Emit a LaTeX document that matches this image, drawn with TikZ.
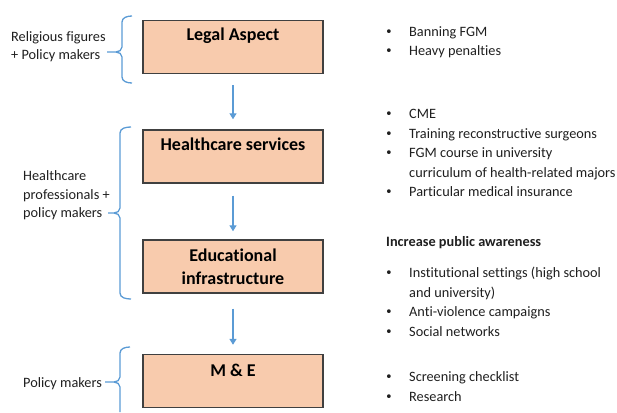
\documentclass[tikz,border=0pt]{standalone}
\usepackage{fontspec}
\setmainfont{Carlito}[Ligatures=NoCommon]
\newfontfamily\dotfont{DejaVu Sans}
\usetikzlibrary{arrows.meta}
\definecolor{boxfill}{HTML}{F8CBAD}
\definecolor{boxline}{HTML}{404040}
\definecolor{flowblue}{HTML}{5B9BD5}
\definecolor{ink}{HTML}{1F1F1F}
\newcommand{\itemdot}{{\dotfont\fontsize{13}{13}\selectfont •}}
\begin{document}
\begin{tikzpicture}[x=1pt,y=-1pt,
  stagebox/.style={draw=boxline,line width=1.4pt,fill=boxfill,minimum width=180pt,minimum height=53pt,inner sep=0pt},
  heading/.style={font=\fontsize{18}{23}\selectfont\bfseries,text=black,inner sep=0pt,anchor=base},
  flow/.style={draw=flowblue,line width=1.3pt,-{Triangle[width=7pt,length=6pt]}},
  brace/.style={draw=flowblue,line width=1.3pt},
  side/.style={font=\fontsize{14.3}{18.5}\selectfont,text=ink,inner sep=0pt,anchor=base west},
  notes/.style={font=\fontsize{14.3}{19.5}\selectfont,text=ink,inner sep=0pt,anchor=base west}]
\useasboundingbox (0,0) rectangle (617,412);

% stage boxes
\node[stagebox] (legal)  at (233,47)    {};
\node[stagebox] (health) at (233,156.5) {};
\node[stagebox] (edu)    at (233,266.5) {};
\node[stagebox] (me)     at (233,381)   {};

% box headings
\node[heading] (legalh)  at ([yshift=-21pt]legal.north)  {Legal Aspect};
\node[heading] (healthh) at ([yshift=-21pt]health.north) {Healthcare services};
\node[heading] (eduh)    at ([yshift=-22pt]edu.north)    {\begin{tabular}[t]{@{}c@{}}Educational\\infrastructure\end{tabular}};
\node[heading] (meh)     at ([yshift=-23pt]me.north)     {M \& E};

% flow arrows
\draw[flow] ([yshift=-11pt]legal.south)  -- ([yshift=10pt]health.north);
\draw[flow] ([yshift=-12pt]health.south) -- ([yshift=8pt]edu.north);
\draw[flow] ([yshift=-15pt]edu.south)    -- ([yshift=9pt]me.north);

% braces
\draw[brace] (132,16) to[out=180,in=90] (122,22) -- (122,47) to[out=-90,in=0] (116,52) -- (107,52);
\draw[brace] (132,83) to[out=180,in=-90] (122,77) -- (122,57) to[out=90,in=0] (116,52);

\draw[brace] (131,127) to[out=180,in=90] (120,133) -- (120,208) to[out=-90,in=0] (114,213) -- (108,213);
\draw[brace] (131,299) to[out=180,in=-90] (120,293) -- (120,218) to[out=90,in=0] (114,213);

\draw[brace] (130,347) to[out=180,in=90] (120,353) -- (120,377) to[out=-90,in=0] (114,382) -- (105,382);
\draw[brace] (120,412) -- (120,387) to[out=90,in=0] (114,382);

% actors
\node[side] (actor1) at (11,41.5) {\begin{tabular}[t]{@{}l@{}}Religious figures\\+ Policy makers\end{tabular}};
\node[side] (actor2) at (23,180.5) {\begin{tabular}[t]{@{}l@{}}Healthcare\\professionals +\\policy makers\end{tabular}};
\node[side] (actor3) at (23,387.5) {Policy makers};

% measures
\node[notes] (legaln) at (385,36.5) {\begin{tabular}[t]{@{}p{24pt}@{}l@{}}
  \itemdot & Banning FGM\\
  \itemdot & Heavy penalties
\end{tabular}};
\node[notes] (healthn) at (385,118.5) {\begin{tabular}[t]{@{}p{24pt}@{}l@{}}
  \itemdot & CME\\
  \itemdot & Training reconstructive surgeons\\
  \itemdot & FGM course in university\\
           & curriculum of health-related majors\\
  \itemdot & Particular medical insurance
\end{tabular}};
\node[notes,font=\fontsize{14.3}{19.5}\selectfont\bfseries] (eduhead) at (386,246.5) {Increase public awareness};
\node[notes] (edun) at (385,277.5) {\begin{tabular}[t]{@{}p{24pt}@{}l@{}}
  \itemdot & Institutional settings (high school\\
           & and university)\\
  \itemdot & Anti-violence campaigns\\
  \itemdot & Social networks
\end{tabular}};
\node[notes] (men) at (385,381.5) {\begin{tabular}[t]{@{}p{24pt}@{}l@{}}
  \itemdot & Screening checklist\\
  \itemdot & Research
\end{tabular}};
\end{tikzpicture}
\end{document}
